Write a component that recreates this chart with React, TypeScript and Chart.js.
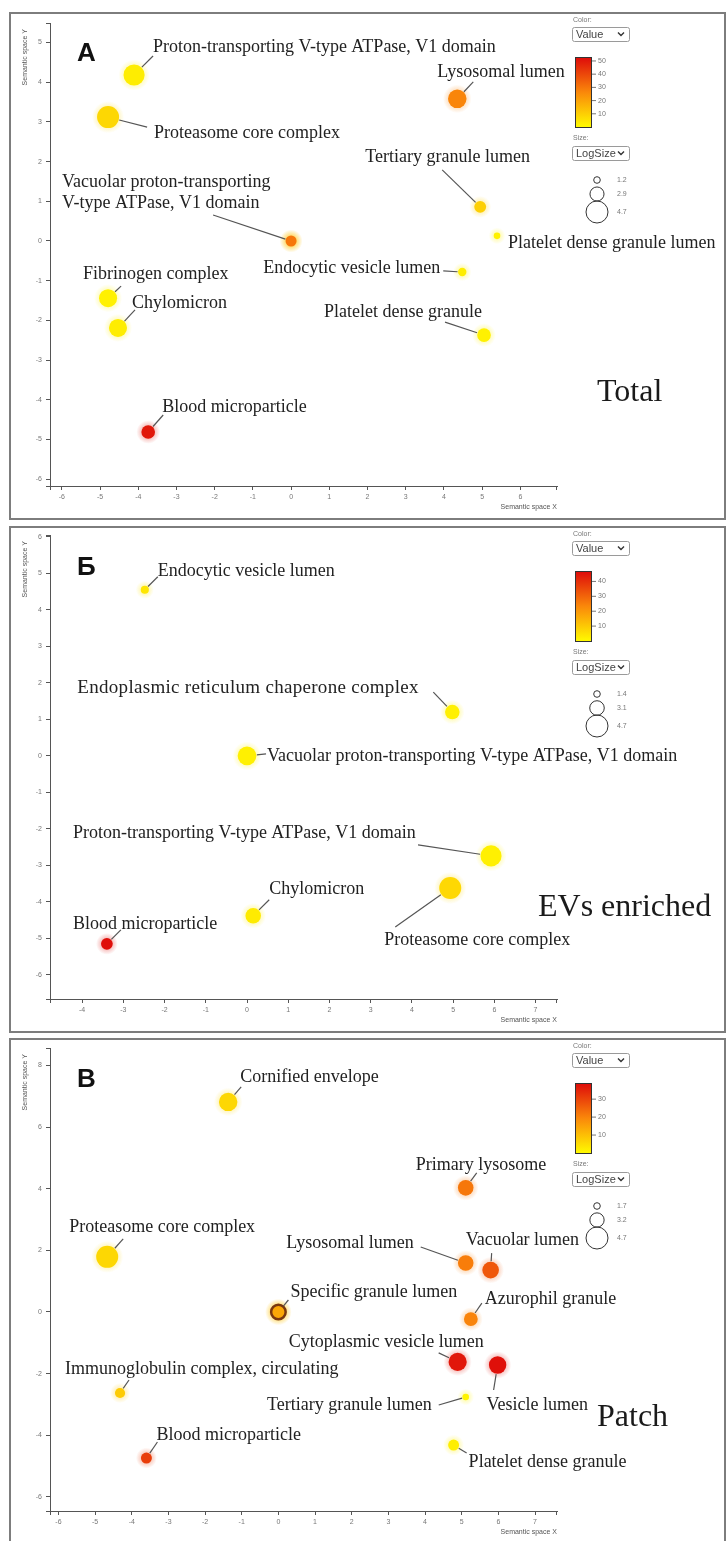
import React, { useEffect, useRef } from "react";
import { Chart, registerables } from "chart.js";

Chart.register(...registerables);

const SERIF = '"Liberation Serif", "Times New Roman", serif';
const SANS = '"Liberation Sans", Arial, sans-serif';
Chart.defaults.font.family = SANS;

// ================= Panel А : Total =================
const termsA = [
  "Proton-transporting V-type ATPase, V1 domain",
  "Proteasome core complex",
  "Vacuolar proton-transporting\nV-type ATPase, V1 domain",
  "Lysosomal lumen",
  "Tertiary granule lumen",
  "Platelet dense granule lumen",
  "Endocytic vesicle lumen",
  "Platelet dense granule",
  "Fibrinogen complex",
  "Chylomicron",
  "Blood microparticle",
];
const semXA = [-4.11, -4.79, 0.0, 4.35, 4.95, 5.39, 4.48, 5.05, -4.79, -4.53, -3.74];
const semYA = [4.18, 3.12, 0.0, 3.58, 0.86, 0.13, -0.78, -2.37, -1.44, -2.19, -4.81];
const valueA = [3, 8, 30, 27, 10, 2, 3, 2, 2, 3, 50];
const logSizeA = [4.5, 4.7, 2.2, 3.9, 2.4, 1.2, 1.6, 2.8, 3.8, 3.8, 2.8];
const xTicksA = [-6, -5, -4, -3, -2, -1, 0, 1, 2, 3, 4, 5, 6];
const yTicksA = [-6, -5, -4, -3, -2, -1, 0, 1, 2, 3, 4, 5];
const colorTicksA = [10, 20, 30, 40, 50];
const sizeLegendA = [1.2, 2.9, 4.7];

// ================= Panel Б : EVs enriched =================
const termsB = [
  "Endocytic vesicle lumen",
  "Endoplasmic reticulum chaperone complex",
  "Vacuolar proton-transporting V-type ATPase, V1 domain",
  "Proton-transporting V-type ATPase, V1 domain",
  "Proteasome core complex",
  "Chylomicron",
  "Blood microparticle",
];
const semXB = [-2.48, 4.98, 0.0, 5.92, 4.93, 0.15, -3.4];
const semYB = [4.55, 1.2, 0.0, -2.74, -3.62, -4.38, -5.15];
const valueB = [4, 2, 2, 2, 7, 3, 46];
const logSizeB = [1.72, 3.1, 4.0, 4.5, 4.7, 3.3, 2.5];
const xTicksB = [-4, -3, -2, -1, 0, 1, 2, 3, 4, 5, 6, 7];
const yTicksB = [-6, -5, -4, -3, -2, -1, 0, 1, 2, 3, 4, 5, 6];
const colorTicksB = [10, 20, 30, 40];
const sizeLegendB = [1.4, 3.1, 4.7];

// ================= Panel В : Patch =================
const termsC = [
  "Cornified envelope",
  "Proteasome core complex",
  "Primary lysosome",
  "Lysosomal lumen",
  "Vacuolar lumen",
  "Specific granule lumen",
  "Azurophil granule",
  "Cytoplasmic vesicle lumen",
  "Vesicle lumen",
  "Tertiary granule lumen",
  "Platelet dense granule",
  "Immunoglobulin complex, circulating",
  "Blood microparticle",
];
const semXC = [-1.37, -4.67, 5.11, 5.11, 5.79, 0.0, 5.25, 4.89, 5.98, 5.11, 4.78, -4.32, -3.6];
const semYC = [6.82, 1.79, 4.03, 1.59, 1.36, 0.0, -0.23, -1.62, -1.72, -2.76, -4.32, -2.63, -4.74];
const valueC = [6, 6, 22, 21, 27, 14, 20, 37, 38, 1, 2, 8, 31];
const logSizeC = [4.0, 4.7, 3.45, 3.45, 3.65, 3.25, 3.1, 3.95, 3.8, 1.7, 2.55, 2.4, 2.55];
const xTicksC = [-6, -5, -4, -3, -2, -1, 0, 1, 2, 3, 4, 5, 6, 7];
const yTicksC = [-6, -4, -2, 0, 2, 4, 6, 8];
const colorTicksC = [10, 20, 30];
const sizeLegendC = [1.7, 3.2, 4.7];

// ---------- label placement (pixel offsets from each bubble) ----------
type LabelSpot = {
  align: CanvasTextAlign; dx: number; dy: number; lx?: number; ly?: number;
  spacing?: number; fontSize?: number;
};

const labelSpotsA: LabelSpot[] = [
  { align: "left", dx: 19, dy: -28, lx: 19, ly: -19 },
  { align: "left", dx: 46, dy: 16, lx: 39, ly: 10 },
  { align: "left", dx: -229, dy: -59, lx: -78, ly: -26 },
  { align: "left", dx: -20, dy: -27, lx: 16, ly: -17 },
  { align: "left", dx: -115, dy: -50, lx: -38, ly: -37 },
  { align: "left", dx: 11, dy: 7 },
  { align: "right", dx: -22, dy: -4, lx: -19, ly: -1 },
  { align: "right", dx: -2, dy: -23, lx: -39, ly: -13 },
  { align: "left", dx: -25, dy: -24, lx: 13, ly: -12 },
  { align: "left", dx: 14, dy: -25, lx: 17, ly: -18 },
  { align: "left", dx: 14, dy: -25, lx: 15, ly: -17 },
];
const labelSpotsB: LabelSpot[] = [
  { align: "left", dx: 13, dy: -18, lx: 13, ly: -13 },
  { align: "left", dx: -375, dy: -24, lx: -19, ly: -20, spacing: 0.3, fontSize: 19 },
  { align: "left", dx: 20, dy: 0, lx: 19, ly: -2 },
  { align: "left", dx: -418, dy: -23, lx: -73, ly: -11 },
  { align: "left", dx: -66, dy: 52, lx: -55, ly: 39 },
  { align: "left", dx: 16, dy: -26, lx: 16, ly: -16 },
  { align: "left", dx: -34, dy: -20, lx: 14, ly: -14 },
];
const labelSpotsC: LabelSpot[] = [
  { align: "left", dx: 12, dy: -25, lx: 13, ly: -15 },
  { align: "left", dx: -38, dy: -30, lx: 16, ly: -18 },
  { align: "left", dx: -50, dy: -23, lx: 11, ly: -15 },
  { align: "right", dx: -52, dy: -20, lx: -45, ly: -16 },
  { align: "left", dx: -25, dy: -30, lx: 1, ly: -17 },
  { align: "left", dx: 12, dy: -20, lx: 10, ly: -12 },
  { align: "left", dx: 14, dy: -20, lx: 11, ly: -16 },
  { align: "right", dx: 26, dy: -20, lx: -19, ly: -9 },
  { align: "left", dx: -11, dy: 40, lx: -4, ly: 25 },
  { align: "right", dx: -34, dy: 8, lx: -27, ly: 8 },
  { align: "left", dx: 15, dy: 17, lx: 13, ly: 8 },
  { align: "left", dx: -55, dy: -24, lx: 9, ly: -13 },
  { align: "left", dx: 10, dy: -23, lx: 11, ly: -16 },
];

type PanelSpec = {
  terms: string[]; xs: number[]; ys: number[]; values: number[]; sizes: number[];
  xTicks: number[]; yTicks: number[]; colorTicks: number[]; sizeLegend: number[];
  labels: LabelSpot[]; colorMax: number;
  xMin: number; xMax: number; yMin: number; yMax: number;
  canvasTop: number; canvasHeight: number; boxTop: number; boxBottom: number;
  pad: { left: number; right: number; top: number; bottom: number };
  letter: string; caption: string; captionX: number; captionY: number;
  glowIndex: number; ringIndex: number;
};

const panels: PanelSpec[] = [
  {
    terms: termsA, xs: semXA, ys: semYA, values: valueA, sizes: logSizeA,
    xTicks: xTicksA, yTicks: yTicksA, colorTicks: colorTicksA, sizeLegend: sizeLegendA,
    labels: labelSpotsA, colorMax: 53,
    xMin: -6.31, xMax: 6.96, yMin: -6.17, yMax: 5.49,
    canvasTop: 0, canvasHeight: 523, boxTop: 13, boxBottom: 519,
    pad: { left: 10, right: 170, top: 23, bottom: 7 },
    letter: "А", caption: "Total", captionX: 597, captionY: 393,
    glowIndex: 2, ringIndex: -1,
  },
  {
    terms: termsB, xs: semXB, ys: semYB, values: valueB, sizes: logSizeB,
    xTicks: xTicksB, yTicks: yTicksB, colorTicks: colorTicksB, sizeLegend: sizeLegendB,
    labels: labelSpotsB, colorMax: 47,
    xMin: -4.78, xMax: 7.52, yMin: -6.66, yMax: 6.05,
    canvasTop: 523, canvasHeight: 513, boxTop: 4, boxBottom: 509,
    pad: { left: 10, right: 170, top: 12, bottom: 7 },
    letter: "Б", caption: "EVs enriched", captionX: 538, captionY: 385,
    glowIndex: -1, ringIndex: -1,
  },
  {
    terms: termsC, xs: semXC, ys: semYC, values: valueC, sizes: logSizeC,
    xTicks: xTicksC, yTicks: yTicksC, colorTicks: colorTicksC, sizeLegend: sizeLegendC,
    labels: labelSpotsC, colorMax: 39,
    xMin: -6.23, xMax: 7.6, yMin: -6.46, yMax: 8.57,
    canvasTop: 1036, canvasHeight: 505, boxTop: 3, boxBottom: 530,
    pad: { left: 10, right: 170, top: 12, bottom: 0 },
    letter: "В", caption: "Patch", captionX: 597, captionY: 382,
    glowIndex: -1, ringIndex: 5,
  },
];

const RAMP = [
  [0, 255, 250, 0],
  [0.5, 250, 135, 10],
  [1, 222, 10, 10],
];
function rampRGB(t: number): number[] {
  const u = Math.max(0, Math.min(1, t));
  for (let k = 0; k < RAMP.length - 1; k++) {
    const a = RAMP[k], b = RAMP[k + 1];
    if (u <= b[0]) {
      const f = (u - a[0]) / (b[0] - a[0]);
      return [0, 1, 2].map((j) => Math.round(a[j + 1] + (b[j + 1] - a[j + 1]) * f));
    }
  }
  return [222, 10, 10];
}

const R_MIN = 3.3;
const R_MAX = 11;

function drawSelect(ctx: CanvasRenderingContext2D, x: number, y: number, w: number, h: number, text: string) {
  ctx.save();
  ctx.fillStyle = "#fff";
  ctx.strokeStyle = "#9a9a9a";
  ctx.lineWidth = 1;
  ctx.beginPath();
  ctx.roundRect(x + 0.5, y + 0.5, w, h, 2);
  ctx.fill();
  ctx.stroke();
  ctx.fillStyle = "#444";
  ctx.font = `11px ${SANS}`;
  ctx.textAlign = "left";
  ctx.textBaseline = "middle";
  ctx.fillText(text, x + 4, y + h / 2 + 1);
  ctx.strokeStyle = "#333";
  ctx.lineWidth = 1.4;
  ctx.beginPath();
  ctx.moveTo(x + w - 11, y + h / 2 - 1.5);
  ctx.lineTo(x + w - 8, y + h / 2 + 1.5);
  ctx.lineTo(x + w - 5, y + h / 2 - 1.5);
  ctx.stroke();
  ctx.restore();
}

function makeDecor(p: PanelSpec, rad: (s: number) => number) {
  return {
    id: "panelDecor",
    beforeDatasetsDraw(chart: any) {
      const ctx: CanvasRenderingContext2D = chart.ctx;
      const meta = chart.getDatasetMeta(0);
      ctx.save();
      meta.data.forEach((el: any, i: number) => {
        const r = el.options.radius;
        let col = rampRGB(p.values[i] / p.colorMax);
        let outer = r + 5;
        let alpha = 0.3;
        if (i === p.glowIndex || i === p.ringIndex) {
          col = [255, 212, 80];
          outer = r + 6;
          alpha = 0.9;
        }
        const g = ctx.createRadialGradient(el.x, el.y, r * 0.8, el.x, el.y, outer);
        g.addColorStop(0, `rgba(${col.join(",")},${alpha})`);
        g.addColorStop(1, `rgba(${col.join(",")},0)`);
        ctx.fillStyle = g;
        ctx.beginPath();
        ctx.arc(el.x, el.y, outer, 0, Math.PI * 2);
        ctx.fill();
      });
      ctx.restore();
    },
    afterDatasetsDraw(chart: any) {
      const ctx: any = chart.ctx;
      const meta = chart.getDatasetMeta(0);
      ctx.save();
      p.labels.forEach((L, i) => {
        const el = meta.data[i];
        if (!el) return;
        const r = el.options.radius;
        if (L.lx !== undefined && L.ly !== undefined) {
          const d = Math.hypot(L.lx, L.ly);
          if (d > r + 1) {
            ctx.strokeStyle = "#555";
            ctx.lineWidth = 1.2;
            ctx.beginPath();
            ctx.moveTo(el.x + (L.lx / d) * (r + 0.5), el.y + (L.ly / d) * (r + 0.5));
            ctx.lineTo(el.x + L.lx, el.y + L.ly);
            ctx.stroke();
          }
        }
        ctx.fillStyle = "#222";
        ctx.font = `${L.fontSize || 18}px ${SERIF}`;
        ctx.textAlign = L.align;
        ctx.textBaseline = "middle";
        ctx.letterSpacing = `${L.spacing || 0}px`;
        p.terms[i].split("\n").forEach((line, k) => {
          ctx.fillText(line, el.x + L.dx, el.y + L.dy + k * 21);
        });
        ctx.letterSpacing = "0px";
      });
      ctx.restore();
    },
    afterDraw(chart: any) {
      const ctx: CanvasRenderingContext2D = chart.ctx;
      const area = chart.chartArea;
      ctx.save();
      // panel frame
      ctx.strokeStyle = "#7d7d7d";
      ctx.lineWidth = 2;
      ctx.strokeRect(10, p.boxTop, 715, p.boxBottom - p.boxTop);

      // axis end ticks
      ctx.strokeStyle = "#555";
      ctx.lineWidth = 1;
      ctx.beginPath();
      ctx.moveTo(area.left - 4, area.top + 0.5);
      ctx.lineTo(area.left, area.top + 0.5);
      ctx.moveTo(area.left - 4, area.bottom + 0.5);
      ctx.lineTo(area.left, area.bottom + 0.5);
      ctx.moveTo(area.left + 0.5, area.bottom);
      ctx.lineTo(area.left + 0.5, area.bottom + 4);
      ctx.moveTo(area.right - 0.5, area.bottom);
      ctx.lineTo(area.right - 0.5, area.bottom + 4);
      ctx.stroke();

      // axis titles
      ctx.fillStyle = "#555";
      ctx.font = `7px ${SANS}`;
      ctx.textBaseline = "middle";
      ctx.textAlign = "right";
      ctx.fillText("Semantic space X", area.right, area.bottom + 21);
      ctx.save();
      ctx.translate(25, area.top + 6);
      ctx.rotate(-Math.PI / 2);
      ctx.textAlign = "right";
      ctx.fillText("Semantic space Y", 0, 0);
      ctx.restore();

      // legend
      const t = p.boxTop;
      ctx.fillStyle = "#777";
      ctx.font = `7px ${SANS}`;
      ctx.textAlign = "left";
      ctx.fillText("Color:", 573, t + 7);
      drawSelect(ctx, 572, t + 14, 57, 14, "Value");
      const bx = 575, bw = 16, by = t + 44, bh = 70;
      const grad = ctx.createLinearGradient(0, by + bh, 0, by);
      RAMP.forEach((s) => grad.addColorStop(s[0], `rgb(${s[1]},${s[2]},${s[3]})`));
      ctx.fillStyle = grad;
      ctx.fillRect(bx, by, bw, bh);
      ctx.strokeStyle = "#333";
      ctx.lineWidth = 1;
      ctx.strokeRect(bx + 0.5, by + 0.5, bw, bh);
      ctx.font = `7px ${SANS}`;
      ctx.fillStyle = "#777";
      p.colorTicks.forEach((v) => {
        const y = by + bh - (v / p.colorMax) * bh;
        ctx.strokeStyle = "#777";
        ctx.beginPath();
        ctx.moveTo(bx + bw + 1, y);
        ctx.lineTo(bx + bw + 5, y);
        ctx.stroke();
        ctx.fillText(String(v), bx + bw + 7, y);
      });
      ctx.fillText("Size:", 573, t + 125);
      drawSelect(ctx, 572, t + 133, 57, 14, "LogSize");
      const cy = [t + 167, t + 181, t + 199];
      p.sizeLegend.forEach((s, k) => {
        ctx.strokeStyle = "#333";
        ctx.lineWidth = 1;
        ctx.beginPath();
        ctx.arc(597, cy[k], rad(s), 0, Math.PI * 2);
        ctx.stroke();
        ctx.fillStyle = "#777";
        ctx.fillText(s.toFixed(1), 617, cy[k]);
      });

      // panel letter and caption
      ctx.fillStyle = "#111";
      ctx.font = `bold 26px ${SANS}`;
      ctx.textBaseline = "alphabetic";
      ctx.fillText(p.letter, 77, t + 48);
      ctx.fillStyle = "#1a1a1a";
      ctx.font = `32px ${SERIF}`;
      ctx.textBaseline = "middle";
      ctx.fillText(p.caption, p.captionX, p.captionY);
      ctx.restore();
    },
  };
}

function buildConfig(p: PanelSpec): any {
  const sMin = p.sizeLegend[0];
  const sMax = p.sizeLegend[p.sizeLegend.length - 1];
  const rad = (s: number) => R_MIN + ((s - sMin) / (sMax - sMin)) * (R_MAX - R_MIN);
  const points = p.xs.map((x, i) => ({ x, y: p.ys[i], r: rad(p.sizes[i]) }));
  const axis = (ticks: number[], min: number, max: number, horizontal: boolean) => ({
    type: "linear",
    min,
    max,
    afterBuildTicks: (scale: any) => {
      scale.ticks = ticks.map((v) => ({ value: v }));
    },
    afterFit: (scale: any) => {
      if (horizontal) scale.height = 30;
      else scale.width = 40;
    },
    grid: { display: true, drawOnChartArea: false, drawTicks: true, tickLength: 4, color: "#555", lineWidth: 1 },
    border: { display: true, color: "#555", width: 1 },
    ticks: {
      autoSkip: false,
      maxRotation: 0,
      padding: horizontal ? 3 : 4,
      color: "#777",
      font: { size: 7, family: SANS },
    },
  });
  return {
    type: "bubble",
    data: {
      datasets: [
        {
          data: points,
          backgroundColor: (c: any) => {
            const col = rampRGB(p.values[c.dataIndex] / p.colorMax);
            return `rgb(${col.join(",")})`;
          },
          borderColor: (c: any) => (c.dataIndex === p.ringIndex ? "#7a3810" : "rgba(0,0,0,0)"),
          borderWidth: (c: any) => (c.dataIndex === p.ringIndex ? 2.5 : 0),
          hoverRadius: 0,
        },
      ],
    },
    options: {
      responsive: false,
      animation: false,
      events: [],
      layout: { padding: p.pad, autoPadding: false },
      plugins: { legend: { display: false }, tooltip: { enabled: false }, title: { display: false } },
      scales: {
        x: axis(p.xTicks, p.xMin, p.xMax, true),
        y: axis(p.yTicks, p.yMin, p.yMax, false),
      },
    },
    plugins: [makeDecor(p, rad)],
  };
}

function PanelChart({ spec }: { spec: PanelSpec }) {
  const ref = useRef<HTMLCanvasElement>(null);
  useEffect(() => {
    if (!ref.current) return;
    const chart = new Chart(ref.current, buildConfig(spec));
    return () => chart.destroy();
  }, [spec]);
  return (
    <canvas
      ref={ref}
      width={727}
      height={spec.canvasHeight}
      style={{ position: "absolute", left: 0, top: spec.canvasTop, width: 727, height: spec.canvasHeight }}
    />
  );
}

export default function App() {
  return (
    <div style={{ position: "absolute", left: 0, top: 0, width: 727, height: 1541, background: "#fff", overflow: "hidden" }}>
      {panels.map((p, i) => (
        <PanelChart key={i} spec={p} />
      ))}
    </div>
  );
}
